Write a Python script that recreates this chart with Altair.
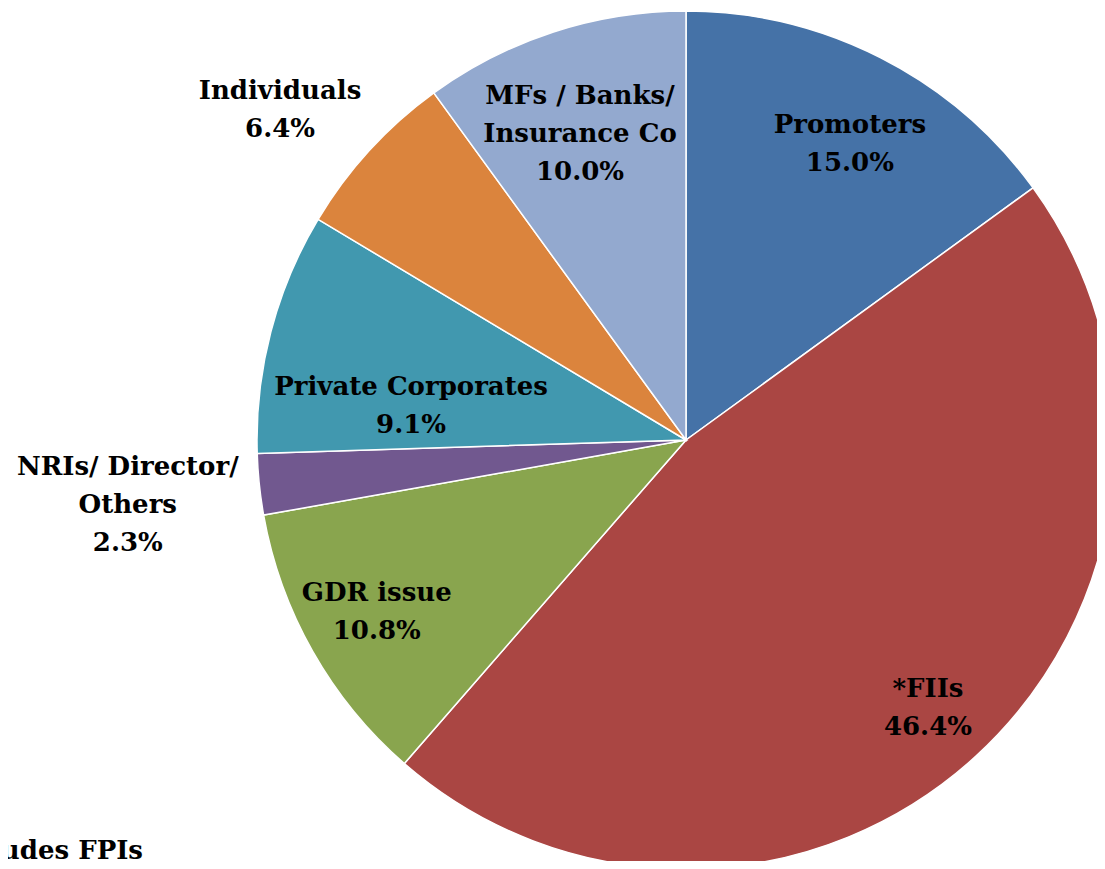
import altair as alt
import pandas as pd

# ---- data ----
categories = [
    "Promoters",
    "*FIIs",
    "GDR issue",
    "NRIs/ Director/\nOthers",
    "Private Corporates",
    "Individuals",
    "MFs / Banks/\nInsurance Co",
]
shares = [15.0, 46.4, 10.8, 2.3, 9.1, 6.4, 10.0]
colors = ["#4572A7", "#AA4643", "#89A54E", "#71588F", "#4198AF", "#DB843D", "#93A9CF"]
footnote = "*Includes FPIs"

# ---- label layout (styling, kept apart from the data) ----
label_radius = [338, 361, 354, 562, 277, 523, 324]
label_angle_shift = [2.0, 0.4, 0.4, -0.7, -7.6, -3.4, -1.1]

CX, CY, R = 678, 432, 429
W, H = 1089, 853
FONT = "DejaVu Serif"
FS = 26
LH = 38

df = pd.DataFrame({
    "idx": list(range(len(categories))),
    "category": categories,
    "share": shares,
    "label_r": label_radius,
    "shift": label_angle_shift,
})

base = alt.Chart(df)

pie = base.mark_arc(stroke="white", strokeWidth=1.5, radius=R).encode(
    theta=alt.Theta("share:Q", stack=True),
    order=alt.Order("idx:Q"),
    color=alt.Color("category:N", scale=alt.Scale(domain=categories, range=colors), legend=None),
    x=alt.value(CX),
    y=alt.value(CY),
)

label_base = base.transform_window(
    cum="sum(share)", sort=[alt.SortField("idx")], frame=[None, 0]
).transform_joinaggregate(
    total="sum(share)"
).transform_calculate(
    mid="(datum.cum - datum.share / 2) / datum.total * 2 * PI + datum.shift * PI / 180",
    lbl="datum.category + '\\n' + format(datum.share, '.1f') + '%'",
    multi="indexof(datum.category, '\\n') >= 0",
)

def label_layer(is_multi, dy):
    return label_base.transform_filter(
        "datum.multi" if is_multi else "!datum.multi"
    ).mark_text(
        font=FONT, fontWeight="bold", fontSize=FS, lineBreak="\n", lineHeight=LH,
        align="center", baseline="middle", color="black", dy=dy,
    ).encode(
        theta=alt.Theta("mid:Q", scale=None, stack=None),
        radius=alt.Radius("label_r:Q", scale=None),
        x=alt.value(CX),
        y=alt.value(CY),
        text="lbl:N",
    )

labels2 = label_layer(False, -LH / 2)
labels3 = label_layer(True, -LH)

note = alt.Chart(pd.DataFrame({"t": [footnote]})).mark_text(
    font=FONT, fontWeight="bold", fontSize=FS, align="right", baseline="alphabetic", color="black",
).encode(
    x=alt.value(135),
    y=alt.value(851),
    text="t:N",
)

chart = alt.layer(pie, labels2, labels3, note).properties(
    width=W, height=H, padding=0,
    autosize=alt.AutoSizeParams(type="none"),
).configure_view(strokeWidth=0)

chart.save("out.html", embed_options={"renderer": "svg", "actions": False})
